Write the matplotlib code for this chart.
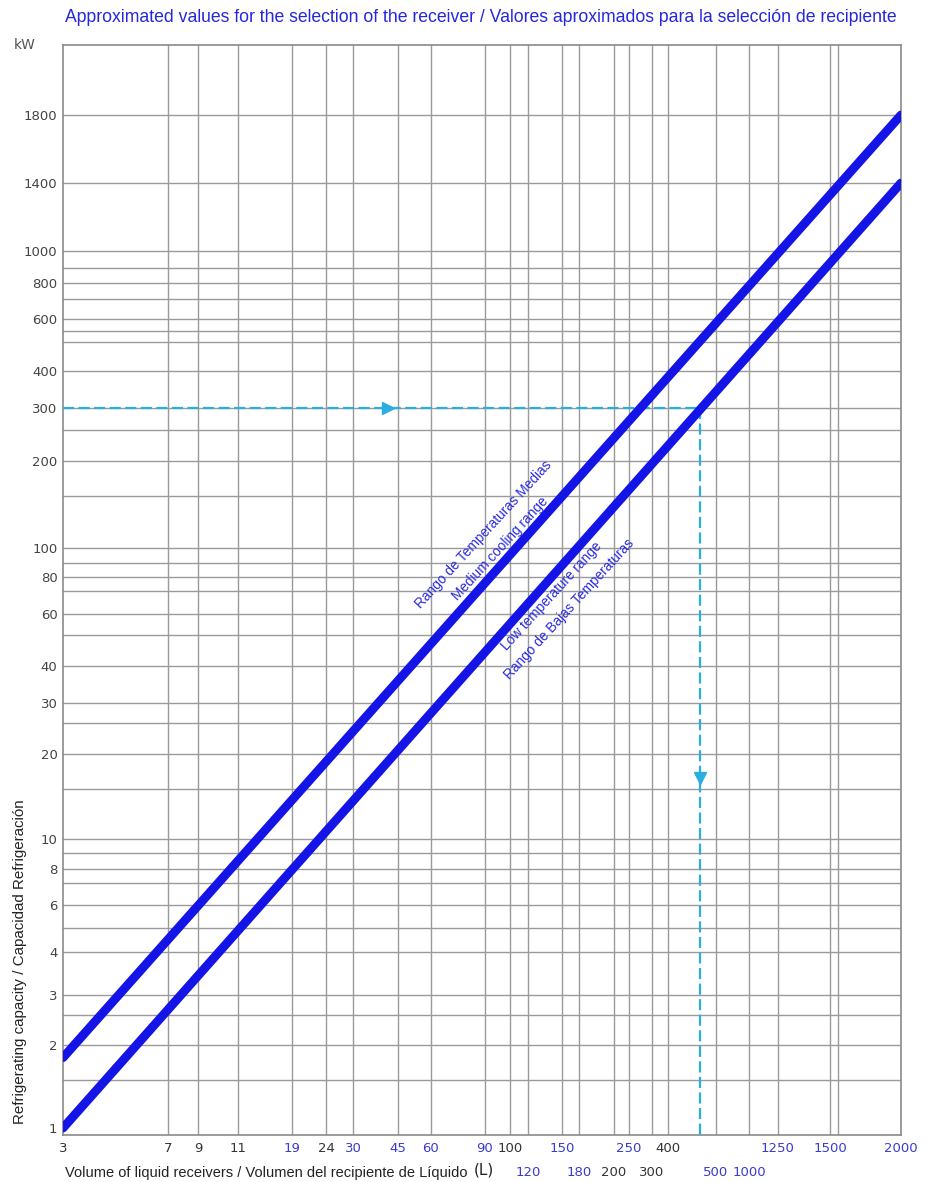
import numpy as np
import matplotlib
matplotlib.use("Agg")
import matplotlib.pyplot as plt

# ---------------- data ----------------
x_ticks_row1 = [3, 7, 9, 11, 19, 24, 30, 45, 60, 90, 100, 150, 250, 400, 1250, 1500, 2000]
x_ticks_row2 = [120, 180, 200, 300, 500, 1000]
x_blue_ticks = [19, 30, 45, 60, 90, 150, 250, 1250, 1500, 2000, 120, 180, 500, 1000]
y_ticks = [1, 2, 3, 4, 6, 8, 10, 20, 30, 40, 60, 80, 100, 200, 300, 400, 600, 800, 1000, 1400, 1800]

volume_ends = [3, 2000]
medium_capacity = [1.8, 1800]
low_capacity = [1.0, 1400]

example_capacity = 300
example_volume = 465
arrow_h_volume = 41
arrow_v_capacity = 16.5

# ---------------- layout of the (hand-drawn) scales ----------------
W, H = 932, 1182
L, R, T, B = 63, 901, 45, 1135

x_knot_vals = [3, 7, 9, 11, 19, 24, 30, 45, 60, 90, 100, 120, 150, 180, 200, 250, 300, 400, 500, 1000, 1250, 1500, 2000]
x_knot_px = [63, 168, 198, 238, 292, 326, 353, 398, 431, 485, 510, 528, 562, 579, 614, 629, 652, 668, 716, 749, 778, 830, 901]
y_knot_vals = [0.943, 1, 2, 3, 4, 6, 8, 10, 20, 30, 40, 60, 80, 100, 200, 300, 400, 600, 800, 1000, 1400, 1800, 2330]
y_knot_px = [1135, 1128, 1045, 995, 952, 905, 869, 839, 754, 703, 666, 614, 577, 548, 461, 408, 371, 319, 283, 251, 183, 115, 45]
x_extra_grid_px = [838]
y_extra_grid_px = [1080, 1015, 928, 883, 853, 789, 723, 635, 591, 563, 496, 430, 342, 331, 299, 268]

xk_log = np.log(np.array(x_knot_vals, float))
xk_pos = (np.array(x_knot_px, float) - L) / (R - L)
yk_log = np.log(np.array(y_knot_vals, float))
yk_pos = (B - np.array(y_knot_px, float)) / (B - T)


def xf(v):
    return np.interp(np.log(np.clip(np.asarray(v, float), 1e-9, None)), xk_log, xk_pos)


def xi(p):
    return np.exp(np.interp(np.asarray(p, float), xk_pos, xk_log))


def yf(v):
    return np.interp(np.log(np.clip(np.asarray(v, float), 1e-9, None)), yk_log, yk_pos)


def yi(p):
    return np.exp(np.interp(np.asarray(p, float), yk_pos, yk_log))


fig = plt.figure(figsize=(W / 100, H / 100), dpi=100)
fig.patch.set_facecolor("white")
ax = fig.add_axes([L / W, 1 - B / H, (R - L) / W, (B - T) / H])
ax.set_xscale("function", functions=(xf, xi))
ax.set_yscale("function", functions=(yf, yi))
ax.set_xlim(x_knot_vals[0], x_knot_vals[-1])
ax.set_ylim(y_knot_vals[0], y_knot_vals[-1])

grid_kw = dict(color="#9a9a9a", lw=1.0, zorder=1)
for v in x_knot_vals[1:-1]:
    ax.axvline(v, **grid_kw)
for p in x_extra_grid_px:
    ax.axvline(float(xi((p - L) / (R - L))), **grid_kw)
for v in y_knot_vals[1:-1]:
    if v == 1:
        continue
    ax.axhline(v, **grid_kw)
for p in y_extra_grid_px:
    ax.axhline(float(yi((B - p) / (B - T))), **grid_kw)

for s in ax.spines.values():
    s.set_color("#8a8a8a")
    s.set_linewidth(1.2)

# main lines
blue = "#1414e6"
ax.plot(volume_ends, medium_capacity, color=blue, lw=6.4, solid_capstyle="round", zorder=4)
ax.plot(volume_ends, low_capacity, color=blue, lw=6.4, solid_capstyle="round", zorder=4)

# example dashed path
cyan = "#2aaee0"
ax.plot([volume_ends[0], example_volume], [example_capacity, example_capacity],
        color=cyan, lw=1.6, ls=(0, (5, 2)), zorder=3)
ax.plot([example_volume, example_volume], [example_capacity, y_knot_vals[0]],
        color=cyan, lw=1.6, ls=(0, (5, 2)), zorder=3)
ax.plot([arrow_h_volume], [example_capacity], marker=">", color=cyan, ms=9, zorder=5)
ax.plot([example_volume], [arrow_v_capacity], marker="v", color=cyan, ms=9, zorder=5)

# ticks
ax.tick_params(axis="both", which="both", length=0)
ax.set_xticks(x_ticks_row1)
ax.set_xticklabels([str(v) for v in x_ticks_row1])
ax.set_xticks(x_ticks_row2, minor=True)
ax.set_xticklabels([str(v) for v in x_ticks_row2], minor=True)
ax.tick_params(axis="x", which="major", pad=5, labelsize=9.5)
ax.tick_params(axis="x", which="minor", pad=22, labelsize=9.5)
for lab, v in zip(ax.get_xticklabels(), x_ticks_row1):
    lab.set_color("#3a3ad0" if v in x_blue_ticks else "#333333")
for lab, v in zip(ax.get_xticklabels(minor=True), x_ticks_row2):
    lab.set_color("#3a3ad0" if v in x_blue_ticks else "#333333")

ax.set_yticks(y_ticks)
ax.set_yticklabels([str(v) for v in y_ticks])
ax.tick_params(axis="y", which="major", pad=4, labelsize=9.5, labelcolor="#444444")
ax.yaxis.set_minor_locator(matplotlib.ticker.NullLocator())

# texts
font = "Liberation Sans"
fig.text(481 / W, 1 - 17 / H,
         "Approximated values for the selection of the receiver / Valores aproximados para la selección de recipiente",
         ha="center", va="center", color="#2626dc", fontsize=12.7, family=font)
fig.text(25 / W, 1 - 45 / H, "kW", ha="center", va="center", color="#555555", fontsize=10)
fig.text(20 / W, 1 - 962 / H, "Refrigerating capacity / Capacidad Refrigeración",
         rotation=90, ha="center", va="center", color="#222222", fontsize=10.9, family=font)
fig.text(65 / W, 1 - 1173 / H, "Volume of liquid receivers / Volumen del recipiente de Líquido",
         ha="left", va="center", color="#222222", fontsize=10.5, family=font)
fig.text(474 / W, 1 - 1170 / H, "(L)", ha="left", va="center", color="#222222", fontsize=11)


def axfrac(px, py):
    return (px - L) / (R - L), (B - py) / (B - T)


txt_kw = dict(transform=ax.transAxes, rotation=47.5, rotation_mode="anchor",
              ha="center", va="center", color="#2a2ae0", fontsize=9.8, family=font, zorder=6)
ax.text(*axfrac(484, 535), "Rango de Temperaturas Medias", **txt_kw)
ax.text(*axfrac(500, 549), "Medium cooling range", **txt_kw)
ax.text(*axfrac(552, 596), "Low temperature range", **txt_kw)
ax.text(*axfrac(569, 609), "Rango de Bajas Temperaturas", **txt_kw)

fig.savefig("out.png", dpi=100, facecolor="white")
